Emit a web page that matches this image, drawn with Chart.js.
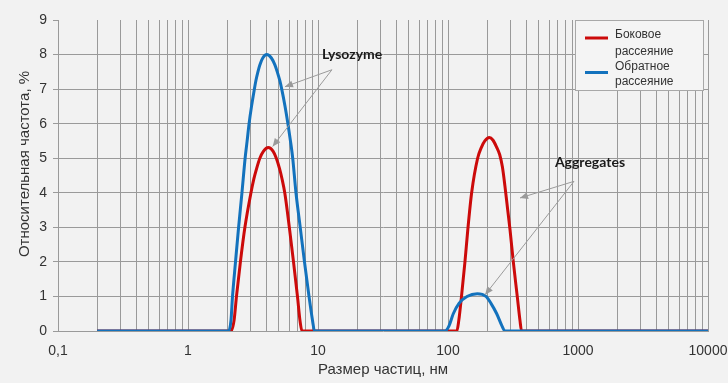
<!DOCTYPE html>
<html>
<head>
<meta charset="utf-8">
<script src="https://cdn.jsdelivr.net/npm/chart.js@4.4.1/dist/chart.umd.min.js"></script>
<style>
  html, body { margin: 0; padding: 0; background: #f2f2f2; }
  #wrap { width: 728px; height: 383px; }
</style>
</head>
<body>
<div id="wrap"><canvas id="myChart" width="728" height="383"></canvas></div>
<script>
// tick labels
const xTickValues = [0.1, 1, 10, 100, 1000, 10000];
const xTickLabels = ['0,1', '1', '10', '100', '1000', '10000'];
const yTickValues = [0, 1, 2, 3, 4, 5, 6, 7, 8, 9];

// Боковое рассеяние (red)
const sideX = [0.2, 2.14, 2.26, 2.36, 2.53, 2.74, 3.05, 3.21, 3.37, 3.57, 3.80, 4.15, 4.52, 4.78, 5.06, 5.29, 5.55, 6.02, 6.48, 6.95, 7.27, 7.53,
               117, 121, 127, 135, 142, 152, 169, 180, 192, 208, 222, 236, 250, 262, 274, 288, 300, 318, 341, 358, 368, 10000];
const sideY = [0, 0, 0.3, 1, 2, 3, 4, 4.4, 4.7, 5.0, 5.2, 5.31, 5.2, 5.0, 4.7, 4.4, 4.0, 3, 2, 1, 0.3, 0,
               0, 0.3, 1, 2, 2.93, 4.0, 5.0, 5.3, 5.5, 5.6, 5.52, 5.33, 5.1, 4.75, 4.2, 3.5, 2.93, 2, 1, 0.3, 0, 0];

// Обратное рассеяние (blue)
const backX = [0.2, 2.05, 2.14, 2.2, 2.32, 2.45, 2.6, 2.75, 2.85, 2.95, 3.08, 3.24, 3.33, 3.45, 3.57, 3.76, 4.03,
               4.38, 4.66, 4.86, 5.08, 5.26, 5.58, 5.87, 6.14, 6.39, 6.77, 7.3, 7.87, 8.53, 9.08, 9.4,
               94.8, 101.8, 109.8, 121.5, 140, 168, 196, 214, 237, 260, 274.5, 10000];
const backY = [0, 0, 0.3, 1, 2, 3, 4, 5, 5.5, 6, 6.5, 7, 7.25, 7.5, 7.7, 7.9, 8,
               7.9, 7.7, 7.5, 7.25, 7, 6.5, 6, 5.5, 5, 4, 3, 2, 1, 0.3, 0,
               0, 0.15, 0.5, 0.8, 1.0, 1.08, 1.0, 0.8, 0.5, 0.15, 0, 0];

const seriesNames = ['Боковое\nрассеяние', 'Обратное\nрассеяние'];
const seriesColors = ['#cc0a0a', '#1372bd'];

// annotation anchors in data units
const notes = [
  { text: 'Lysozyme', at: [18.3, 7.99], from: [12.8, 7.56], to: [[5.57, 7.07], [4.48, 5.34]] },
  { text: 'Aggregates', at: [1236, 4.88], from: [931, 4.33], to: [[358, 3.85], [193, 1.05]] }
];

function pts(xs, ys) { return xs.map((x, i) => ({ x: x, y: ys[i] })); }

const extras = {
  id: 'extras',
  afterDatasetsDraw(chart) {
    const c = chart.ctx, xs = chart.scales.x, ys = chart.scales.y;
    c.save();
    // arrows + labels
    notes.forEach(n => {
      const sx = xs.getPixelForValue(n.from[0]), sy = ys.getPixelForValue(n.from[1]);
      n.to.forEach(t => {
        const ex = xs.getPixelForValue(t[0]), ey = ys.getPixelForValue(t[1]);
        c.strokeStyle = '#9a9a9a'; c.fillStyle = '#9a9a9a'; c.lineWidth = 1;
        c.beginPath(); c.moveTo(sx, sy); c.lineTo(ex, ey); c.stroke();
        const a = Math.atan2(ey - sy, ex - sx);
        c.beginPath();
        c.moveTo(ex, ey);
        c.lineTo(ex - 8 * Math.cos(a) + 3.5 * Math.sin(a), ey - 8 * Math.sin(a) - 3.5 * Math.cos(a));
        c.lineTo(ex - 8 * Math.cos(a) - 3.5 * Math.sin(a), ey - 8 * Math.sin(a) + 3.5 * Math.cos(a));
        c.closePath(); c.fill();
      });
      c.fillStyle = '#1a1a1a';
      c.font = 'bold 14px Lato';
      c.textAlign = 'center'; c.textBaseline = 'middle';
      c.fillText(n.text, xs.getPixelForValue(n.at[0]), ys.getPixelForValue(n.at[1]));
    });

    // legend box
    c.fillStyle = '#f4f4f4'; c.strokeStyle = '#a8a8a8'; c.lineWidth = 1;
    c.fillRect(575, 20, 128, 70);
    c.strokeRect(575.5, 20.5, 128, 70);
    c.font = '12px "Liberation Sans"';
    c.textAlign = 'left'; c.textBaseline = 'middle';
    const rows = [[38, 35, 51.5], [72.5, 66.5, 81.5]];
    seriesNames.forEach((name, i) => {
      c.strokeStyle = seriesColors[i]; c.lineWidth = 3;
      c.beginPath(); c.moveTo(585, rows[i][0]); c.lineTo(608, rows[i][0]); c.stroke();
      c.fillStyle = '#333';
      const lines = name.split('\n');
      c.fillText(lines[0], 615, rows[i][1]);
      c.fillText(lines[1], 615, rows[i][2]);
    });

    // axis titles
    c.fillStyle = '#333';
    c.font = '15px "Liberation Sans"';
    c.textAlign = 'center'; c.textBaseline = 'middle';
    c.fillText('Размер частиц, нм', (chart.chartArea.left + chart.chartArea.right) / 2, 370);
    c.translate(25, 164);
    c.rotate(-Math.PI / 2);
    c.fillText('Относительная частота, %', 0, 0);
    c.restore();
  }
};

const ctx = document.getElementById('myChart').getContext('2d');

new Chart(ctx, {
    type: 'line',
    data: {
        datasets: [{
            label: seriesNames[1],
            data: pts(backX, backY),
            borderColor: seriesColors[1],
            borderWidth: 3,
            pointRadius: 0,
            cubicInterpolationMode: 'monotone',
            fill: false
        }, {
            label: seriesNames[0],
            data: pts(sideX, sideY),
            borderColor: seriesColors[0],
            borderWidth: 3,
            pointRadius: 0,
            cubicInterpolationMode: 'monotone',
            fill: false
        }]
    },
    options: {
        responsive: false,
        animation: false,
        layout: { padding: { top: 20, right: 20, left: 0, bottom: 0 } },
        plugins: { legend: { display: false }, tooltip: { enabled: false } },
        scales: {
            x: {
                type: 'logarithmic',
                min: 0.1,
                max: 10000,
                afterFit: s => { s.height = 52; s.paddingRight = 0; s.paddingLeft = 0; },
                afterBuildTicks: s => {
                    const t = [];
                    for (let e = -1; e < 4; e++) {
                        for (let d = 1; d < 10; d++) t.push({ value: d * Math.pow(10, e) });
                    }
                    t.push({ value: 10000 });
                    s.ticks = t;
                },
                grid: { color: '#9a9a9a', drawTicks: false },
                border: { color: '#9a9a9a' },
                ticks: {
                    autoSkip: false,
                    maxRotation: 0,
                    padding: 12,
                    color: '#333',
                    font: { size: 14, family: 'Liberation Sans' },
                    callback: v => {
                        const i = xTickValues.findIndex(p => Math.abs(p - v) < p * 1e-6);
                        return i < 0 ? '' : xTickLabels[i];
                    }
                }
            },
            y: {
                min: 0,
                max: 9,
                afterFit: s => { s.width = 58; },
                afterBuildTicks: s => { s.ticks = yTickValues.map(v => ({ value: v })); },
                grid: {
                    color: c => (c.tick && c.tick.value > 0 && c.tick.value < 9) ? '#9a9a9a' : 'rgba(0,0,0,0)',
                    tickColor: '#9a9a9a',
                    tickLength: 5
                },
                border: { color: '#9a9a9a' },
                ticks: {
                    padding: 6,
                    color: '#333',
                    font: { size: 14, family: 'Liberation Sans' }
                }
            }
        }
    },
    plugins: [extras]
});
</script>
</body>
</html>
